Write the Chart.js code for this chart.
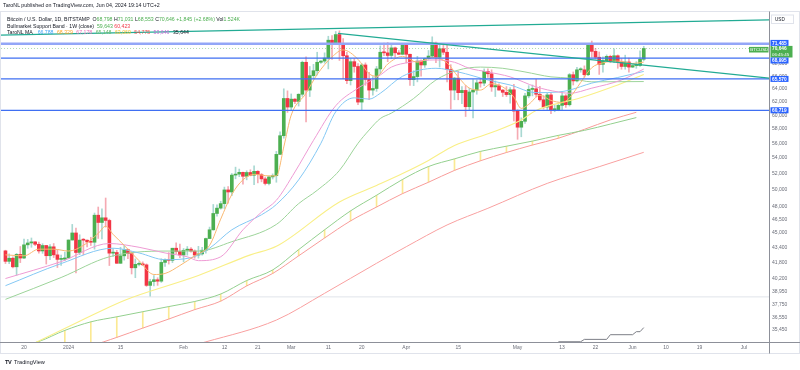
<!DOCTYPE html>
<html>
<head>
<meta charset="utf-8">
<title>BTCUSD 1D</title>
<script src="https://cdn.jsdelivr.net/npm/chart.js@4.4.1/dist/chart.umd.min.js"></script>
<style>
  html, body { margin: 0; padding: 0; background: #fff; }
  #wrap { position: relative; width: 800px; height: 370px; overflow: hidden;
          font-family: "Liberation Sans", Arial, sans-serif; color: #131722; }
  #btcChart { position: absolute; left: 0; top: 0; }
  .hdr { position: absolute; left: 3px; top: 1px; font-size: 5.3px; line-height: 8px; white-space: nowrap; }
  .legend { position: absolute; left: 7px; top: 15.6px; font-size: 5.2px; line-height: 6.9px; white-space: nowrap; }
  .legend b { font-weight: normal; margin-left: 2px; }
  .foot { position: absolute; left: 5px; top: 358px; font-size: 5.6px; line-height: 8px; white-space: nowrap; }
  .foot strong { font-weight: bold; letter-spacing: -0.3px; margin-right: 1px; }
  .g { color: #4caf50; } .r { color: #f23645; }
</style>
</head>
<body>
<div id="wrap">
  <canvas id="btcChart" width="800" height="370"></canvas>
  <div class="hdr">TaroNL published on TradingView.com, Jun 04, 2024 19:14 UTC+2</div>
  <div class="legend">
    <div>Bitcoin / U.S. Dollar, 1D, BITSTAMP&nbsp; O<span class="g">68,798</span> H<span class="g">71,031</span> L<span class="g">68,553</span> C<span class="g">70,646</span> <span class="g">+1,845 (+2.68%)</span> Vol<span class="g">1.524K</span></div>
    <div>Bullmarket Support Band · 1W (close)&nbsp; <span class="g">59,643</span> <span class="r">60,423</span></div>
    <div>TaroNL MA&nbsp; <b style="color:#42a5f5">66,788</b> <b style="color:#ffa726">68,329</b> <b style="color:#ec6fb8">67,178</b> <b style="color:#66bb6a">65,148</b> <b style="color:#f2c230">63,069</b> <b style="color:#ef5350">54,775</b> <b style="color:#c56bd6">53,646</b> <b style="color:#131722">35,644</b></div>
  </div>
  <div class="foot"><strong>TV</strong> TradingView</div>
</div>

<script>
// day 0 = Dec 20, 2023; first candle is Dec 15, 2023
const firstDay = -5;

const opens = [
  43020, 41930, 42250, 41370, 42650, 42270, 43660, 43860, 43980, 43720, 43010, 43590, 42510, 43450, 42600, 42130, 42150,
  42280, 44180, 44950, 42850, 44170, 44160, 43970, 43940, 46950, 46120, 46650, 46350, 42780, 42850, 41730, 42500,
  43150, 42740, 41270, 41620, 41660, 41570, 39530, 39900, 40080, 39940, 41820, 42120, 42030, 43300, 42950,
  42580, 43080, 43200, 43000, 42580, 42700, 43090, 44340, 45300, 47150, 47770, 48300, 49950, 49700, 51800,
  51920, 52150, 51650, 52130, 51780, 52280, 51850, 51320, 50750, 51570, 51730, 54500, 57050, 62500,
  61200, 62400, 62050, 63150, 68300, 63800, 66100, 66900, 68300, 68500, 69000, 72100, 71450, 73100, 71400, 69400,
  65300, 68400, 67600, 61950, 67850, 65500, 63800, 64050, 67200, 70000, 69900, 69450, 70750, 69900, 69650,
  71300, 69650, 65450, 65950, 68500, 67850, 68900, 69350, 71600, 69150, 70600, 70000, 67100, 63800, 65700,
  63400, 63750, 61250, 63500, 63800, 64950, 64900, 66800, 66400, 64300, 64500, 63800, 63450, 63100, 63850,
  60600, 58250, 59100, 62900, 63900, 64000, 63150, 62300, 61200, 63050, 60800, 60800, 61450, 62900, 61550, 66250,
  65250, 67050, 67050, 66250, 71450, 70150, 69150, 67950, 68550, 69300, 68500, 69400, 68350, 67600, 68350,
  67500, 67750, 67760, 68798
];
const highs = [
  43090, 42700, 42400, 42750, 43480, 44280, 44240, 44400, 44000, 43950, 43780, 43600, 43680, 43800, 43140, 42590, 42890,
  44190, 45900, 45500, 44750, 44340, 44210, 44480, 47200, 47900, 47700, 48970, 46500, 43250, 43080, 43400, 43580,
  43200, 42930, 42180, 41870, 41880, 41670, 40130, 40500, 40280, 42200, 42200, 42840, 43300, 43870, 43730,
  43270, 43480, 43380, 43120, 43500, 43400, 44380, 45600, 48200, 48170, 48580, 50300, 50370, 52000, 52820,
  52570, 52180, 52350, 52480, 52980, 52370, 52000, 51550, 51700, 51950, 54900, 57600, 64000, 63680,
  63200, 62480, 63230, 68500, 69200, 67600, 67950, 70000, 68600, 69900, 72800, 72900, 73650, 73780, 72400, 70000,
  68900, 68900, 68100, 68100, 68200, 66650, 65950, 67600, 71100, 71600, 71700, 71500, 70900, 70300, 71350,
  71400, 69700, 66900, 69300, 68700, 69000, 70300, 72700, 71750, 71200, 71250, 71250, 67900, 65800, 66850,
  64350, 64500, 64100, 65450, 65400, 65650, 67200, 67200, 67050, 65250, 64800, 63900, 64350, 64200, 64700,
  60800, 59600, 63300, 64500, 64600, 65500, 64400, 62950, 63400, 63450, 61500, 61800, 63450, 63100, 66450, 66700,
  67450, 67400, 67700, 71500, 71950, 70650, 70050, 69200, 69550, 69500, 70600, 69550, 68900, 69500, 69000,
  67850, 68400, 70250, 71031
];
const lows = [
  41700, 41700, 41250, 40530, 41800, 42200, 43290, 43400, 43570, 42780, 42760, 41650, 42110, 42320, 41300, 41520, 41990,
  42200, 44170, 40750, 42620, 42600, 43440, 43590, 43200, 44350, 44300, 45600, 41500, 42450, 41720, 41720, 42050,
  42200, 40650, 40280, 41470, 41500, 39430, 38500, 39480, 39530, 39820, 41400, 41650, 41800, 42700, 42300,
  41880, 42570, 42880, 42250, 42260, 42580, 42780, 44340, 45250, 46830, 47650, 47720, 48350, 49260, 51330,
  51600, 50650, 51200, 51700, 50600, 50820, 50950, 50560, 50580, 51300, 50900, 54450, 56700, 60400,
  60800, 61700, 61350, 62820, 59000, 62800, 65600, 66200, 68100, 68150, 67200, 68800, 71350, 68600, 65600, 64800,
  64600, 66650, 61550, 60750, 64550, 62300, 63000, 63600, 66400, 69400, 68400, 68900, 69100, 69600, 69600,
  68200, 64550, 64500, 65100, 66000, 67450, 68800, 69100, 68250, 67500, 69600, 65100, 60900, 62300, 62300,
  61700, 59800, 60800, 59600, 63150, 64250, 64500, 65800, 63600, 62800, 63800, 62800, 62800, 61800, 59150,
  56550, 56900, 58800, 62600, 62900, 62750, 62100, 60900, 60700, 60200, 60500, 60650, 60750, 61150, 61350, 64600,
  65100, 66650, 65850, 66100, 69150, 68850, 66300, 66650, 68500, 68250, 68250, 67300, 67150, 67150, 66650,
  67400, 67300, 67600, 68553
];
const closes = [
  41930, 42250, 41370, 42650, 42270, 43660, 43860, 43980, 43720, 43010, 43590, 42510, 43450, 42600, 42130, 42150, 42280,
  44180, 44950, 42850, 44170, 44160, 43970, 43940, 46950, 46120, 46650, 46350, 42780, 42850, 41730, 42500, 43150,
  42740, 41270, 41620, 41660, 41570, 39530, 39900, 40080, 39940, 41820, 42120, 42030, 43300, 42950, 42580,
  43080, 43200, 43000, 42580, 42700, 43090, 44340, 45300, 47150, 47770, 48300, 49950, 49700, 51800, 51920,
  52150, 51650, 52130, 51780, 52280, 51850, 51320, 50750, 51570, 51730, 54500, 57050, 62500, 61200,
  62400, 62050, 63150, 68300, 63800, 66100, 66900, 68300, 68500, 69000, 72100, 71450, 73100, 71400, 69400, 65300,
  68400, 67600, 61950, 67850, 65500, 63800, 64050, 67200, 70000, 69900, 69450, 70750, 69900, 69650, 71300,
  69650, 65450, 65950, 68500, 67850, 68900, 69350, 71600, 69150, 70600, 70000, 67100, 63800, 65700, 63400,
  63750, 61250, 63500, 63800, 64950, 64900, 66800, 66400, 64300, 64500, 63800, 63450, 63100, 63850, 60600,
  58250, 59100, 62900, 63900, 64000, 63150, 62300, 61200, 63050, 60800, 60800, 61450, 62900, 61550, 66250, 65250,
  67050, 67050, 66250, 71450, 70150, 69150, 67950, 68550, 69300, 68500, 69400, 68350, 67600, 68350, 67500,
  67750, 67760, 68800, 70646
];

// moving averages at a few days each
const fastDays = [-5, 0, 4, 8, 12, 16, 20, 22, 24, 27, 31, 35, 38, 42, 46, 50, 53, 56, 59, 62, 66, 68, 70, 72, 76, 79, 83, 86, 90, 93, 95, 98, 102, 106, 110, 114, 117, 120, 123, 126, 129, 132, 134, 136, 139, 142, 145, 147, 150, 153, 156, 160, 164, 167];
const fastVals = [42600, 42500, 43200, 43200, 43000, 43600, 44900, 45700, 44800, 43600, 42000, 40600, 40700, 41500, 42500, 43600, 46500, 49400, 51200, 51900, 51700, 51700, 55500, 60000, 63300, 66300, 69200, 70400, 68800, 66400, 66000, 68000, 69300, 68300, 69100, 68200, 65900, 64100, 63800, 64800, 64300, 62700, 61000, 61600, 63000, 62200, 61900, 62600, 65000, 67400, 68200, 68500, 68100, 68329];

const blueDays = [-5, 10, 24, 31, 38, 45, 50, 56, 64, 68, 74, 80, 84, 89, 93, 96, 102, 111, 117, 125, 131, 138, 144, 147, 153, 160, 167];
const blueVals = [39500, 41700, 43300, 42800, 42100, 42300, 43300, 45300, 47000, 48200, 51200, 56000, 60500, 62600, 62400, 63300, 66000, 67300, 66700, 65400, 64600, 63400, 63500, 63800, 64900, 65800, 66788];

const pinkDays = [-5, 10, 23, 31, 38, 44, 47, 53, 59, 64, 68, 73, 78, 84, 90, 96, 99, 104, 111, 116, 120, 125, 131, 138, 144, 147, 153, 161, 167];
const pinkVals = [40200, 41900, 43800, 43400, 42800, 42400, 42000, 42400, 45300, 47300, 48700, 52200, 56400, 61400, 64100, 66200, 67500, 68300, 68700, 68300, 67300, 66700, 65900, 64300, 63500, 63300, 64100, 65400, 67178];

const greenDays = [-5, 10, 23, 38, 47, 56, 68, 74, 79, 85, 90, 93, 96, 99, 105, 111, 117, 123, 129, 135, 142, 147, 153, 167];
const greenVals = [38200, 40300, 42400, 43000, 43000, 44000, 45900, 48300, 49900, 52400, 56000, 57850, 59500, 60300, 62500, 65400, 67000, 67500, 67300, 66700, 65900, 65700, 65100, 65148];

const yellowDays = [-6, 4, 15, 27, 47, 61, 68, 85, 95, 102, 109, 116, 126, 134, 138, 150, 159, 167];
const yellowVals = [33000, 34500, 36200, 38100, 40500, 42600, 43500, 48500, 50500, 52000, 53700, 55700, 57500, 59300, 60700, 62600, 64400, 66300];

const redDays = [40, 49, 68, 81, 95, 103, 114, 125, 141, 155, 167];
const redVals = [33700, 34420, 36310, 38770, 41730, 43460, 45840, 47750, 50760, 52880, 54775];

const grayDays = [144, 150, 151, 157, 158, 164, 165, 166, 167];
const grayVals = [34430, 34430, 34630, 34630, 35030, 35030, 35290, 35290, 35644];

// Bullmarket Support Band (weekly)
const bandDays = [-3, 4, 11, 18, 25, 32, 39, 46, 53, 60, 67, 74, 81, 88, 95, 102, 109, 116, 123, 130, 137, 144, 151, 158, 165];
const bandSma = [33900, 34450, 35400, 36150, 36600, 37060, 37530, 38000, 38700, 40000, 41050, 43150, 45300, 47450, 49300, 51250, 52900, 53900, 54900, 55600, 56300, 57100, 57800, 58700, 59643];
const bandEma = [32500, 33200, 33700, 34100, 34800, 35600, 36400, 37250, 38030, 39480, 40700, 42500, 44400, 46300, 47900, 49500, 50900, 52400, 53650, 54750, 55760, 56700, 57950, 59300, 60423];

// drawings
const levels = [71485, 68995, 65570, 60719];
const lastPrice = 70646;
const trendTopDays = [-7, 201];
const trendTopVals = [73010, 75780];
const trendDownDays = [84.6, 201];
const trendDownVals = [73330, 65690];

// axes
const tickDays = [0, 12, 26, 43, 54, 63, 72, 82, 91, 103, 117, 133, 145, 154, 164, 173, 182, 194];
const tickLabels = ['20', '2024', '15', 'Feb', '12', '21', 'Mar', '11', '20', 'Apr', '15', 'May', '13', '22', 'Jun', '10', '19', 'Jul'];
const priceTicks = [70000, 68000, 66000, 64000, 62000, 60000, 58000, 56000, 54000, 52000, 50000, 48000, 46500, 45000, 43400, 41800, 40200, 38950, 37750, 36550, 35450];


const UP = '#4caf50';
const DOWN = '#f23645';
const fmt = v => Number(v).toLocaleString('en-US');

function series(days, vals) {
  return days.map((d, i) => ({ x: d, y: vals[i] }));
}

function lineSet(data, color, width, order, smooth, dash) {
  return {
    type: 'line',
    data: data,
    borderColor: color,
    borderWidth: width,
    borderDash: dash || [],
    pointRadius: 0,
    fill: false,
    order: order,
    tension: 0,
    cubicInterpolationMode: smooth ? 'monotone' : 'default'
  };
}

const framePlugin = {
  id: 'tvFrame',
  beforeDatasetsDraw(chart) {
    const { ctx, chartArea } = chart;
    ctx.save();
    // collapsed pane separator
    ctx.fillStyle = '#eceef2';
    ctx.fillRect(0, 296, chartArea.right, 1.6);
    ctx.restore();
  },
  afterDraw(chart) {
    const { ctx, chartArea } = chart;
    const yScale = chart.scales.y;
    const right = chartArea.right;
    ctx.save();

    ctx.strokeStyle = '#e0e3eb';
    ctx.lineWidth = 1;
    ctx.strokeRect(0.5, 11.5, 799, 342);

    ctx.strokeStyle = '#8d9099';
    ctx.beginPath();
    ctx.moveTo(right + 0.5, 11.5);
    ctx.lineTo(right + 0.5, 353.5);
    ctx.moveTo(0, chartArea.bottom + 0.5);
    ctx.lineTo(800, chartArea.bottom + 0.5);
    ctx.stroke();

    // USD box
    ctx.fillStyle = '#fff';
    ctx.strokeStyle = '#e0e3eb';
    ctx.fillRect(771.5, 15, 22, 8.5);
    ctx.strokeRect(771.5, 15, 22, 8.5);
    ctx.fillStyle = '#131722';
    ctx.font = '4.6px "Liberation Sans", Arial, sans-serif';
    ctx.textBaseline = 'middle';
    ctx.fillText('USD', 775, 19.4);

    // current price badge
    const cp = yScale.getPixelForValue(lastPrice);
    const gTop = cp - 2.6;
    const gBot = cp + 9;
    ctx.fillStyle = UP;
    ctx.fillRect(right + 1.5, gTop, 22, gBot - gTop);
    ctx.fillRect(right - 20, cp - 1.6, 19.5, 5.6);
    ctx.fillStyle = '#fff';
    ctx.font = 'bold 4.8px "Liberation Sans", Arial, sans-serif';
    ctx.fillText(fmt(lastPrice), right + 3, cp + 0.3);
    ctx.font = '4.4px "Liberation Sans", Arial, sans-serif';
    ctx.fillText('06:45:45', right + 3, cp + 5.8);
    ctx.fillText('BTCUSD', right - 18.8, cp + 1.2);

    // level badges
    levels.forEach(v => {
      const c = yScale.getPixelForValue(v);
      let top = c - 3;
      let bot = c + 3;
      if (c < cp && bot > gTop) { bot = gTop; top = bot - 6; }
      else if (c >= cp && top < gBot) { top = gBot; bot = top + 6; }
      ctx.fillStyle = '#2962ff';
      ctx.fillRect(right + 1.5, top, 18, bot - top);
      ctx.fillStyle = '#fff';
      ctx.font = 'bold 4.8px "Liberation Sans", Arial, sans-serif';
      ctx.fillText(fmt(v), right + 3, (top + bot) / 2 + 0.3);
    });
    ctx.restore();
  }
};

function initializeChart() {
  const canvas = document.getElementById('btcChart');
  if (!canvas || typeof Chart === 'undefined') {
    console.error('Chart.js or canvas missing');
    return;
  }
  Chart.defaults.font.family = '"Liberation Sans", Arial, sans-serif';

  const days = opens.map((_, i) => firstDay + i);
  const isUp = i => closes[i] >= opens[i];
  const bodies = days.map((d, i) => ({ x: d, y: [opens[i], closes[i]] }));
  const wicks = days.map((d, i) => ({ x: d, y: [lows[i], highs[i]] }));
  const bandFill = [];
  bandDays.forEach((d, i) => {
    if (bandSma[i] > bandEma[i]) bandFill.push({ x: d, y: [bandEma[i], bandSma[i]] });
  });

  const datasets = [
    {
      type: 'bar', data: bandFill, backgroundColor: 'rgba(250,228,120,0.8)',
      barThickness: 1, grouped: false, order: 30
    },
    {
      type: 'bar', data: wicks, grouped: false, barThickness: 1, order: 21,
      backgroundColor: ctx => isUp(ctx.dataIndex) ? '#a9d8d2' : '#f5aab3'
    },
    {
      type: 'bar', data: bodies, grouped: false, barThickness: 3, minBarLength: 1, order: 20,
      backgroundColor: ctx => isUp(ctx.dataIndex) ? UP : DOWN
    },
    lineSet(series(bandDays, bandSma), '#94d08f', 1, 25, true),
    lineSet(series(bandDays, bandEma), '#f89c9a', 1, 25, true),
    lineSet(series(redDays, redVals), '#f9a0a0', 1, 9, true),
    lineSet(series(yellowDays, yellowVals), '#f9ef86', 1.1, 9, true),
    lineSet(series(greenDays, greenVals), '#9dd49a', 1, 8, true),
    lineSet(series(pinkDays, pinkVals), '#ee9bd4', 1, 7, true),
    lineSet(series(blueDays, blueVals), '#84c8f4', 1, 7, true),
    lineSet(series(fastDays, fastVals), '#f9b870', 1, 6, true),
    lineSet(series(grayDays, grayVals), '#7d7f87', 1, 6, false),
    lineSet(series([-7, 201], [lastPrice, lastPrice]), 'rgba(76,175,80,0.45)', 1, 4, false, [1, 2]),
    lineSet(series([-7, 201], [levels[0], levels[0]]), '#93a6f7', 2.6, 3, false),
    lineSet(series([-7, 201], [levels[1], levels[1]]), '#3f6ff2', 1.2, 3, false),
    lineSet(series([-7, 201], [levels[2], levels[2]]), '#3f6ff2', 1.2, 3, false),
    lineSet(series([-7, 201], [levels[3], levels[3]]), '#3f6ff2', 1.2, 3, false),
    lineSet(series(trendTopDays, trendTopVals), '#22ab94', 1.3, 2, false),
    lineSet(series(trendDownDays, trendDownVals), '#22ab94', 1.3, 2, false)
  ];

  new Chart(canvas, {
    type: 'bar',
    data: { datasets: datasets },
    options: {
      responsive: false,
      animation: false,
      devicePixelRatio: 1,
      events: [],
      layout: { padding: { top: 12, bottom: 17, left: 0, right: 0 } },
      plugins: {
        legend: { display: false },
        tooltip: { enabled: false }
      },
      scales: {
        x: {
          type: 'linear',
          min: -6.47,
          max: 200.75,
          offset: false,
          grid: { display: false, drawTicks: false, offset: false },
          border: { display: false },
          afterBuildTicks: scale => { scale.ticks = tickDays.map(v => ({ value: v })); },
          afterFit: scale => { scale.height = 11; },
          ticks: {
            autoSkip: false,
            maxRotation: 0,
            padding: 3,
            color: '#6a6d78',
            font: { size: 5 },
            callback: value => {
              const i = tickDays.indexOf(value);
              return i >= 0 ? tickLabels[i] : '';
            }
          }
        },
        y: {
          type: 'logarithmic',
          position: 'right',
          min: 34408,
          max: 77257,
          grid: { display: false, drawTicks: false },
          border: { display: false },
          afterBuildTicks: scale => { scale.ticks = priceTicks.map(v => ({ value: v })); },
          afterFit: scale => { scale.width = 31; },
          ticks: {
            padding: 3,
            color: '#6a6d78',
            font: { size: 5 },
            callback: value => fmt(value)
          }
        }
      }
    },
    plugins: [framePlugin]
  });
}

document.addEventListener('DOMContentLoaded', () => {
  initializeChart();
});
</script>
</body>
</html>
